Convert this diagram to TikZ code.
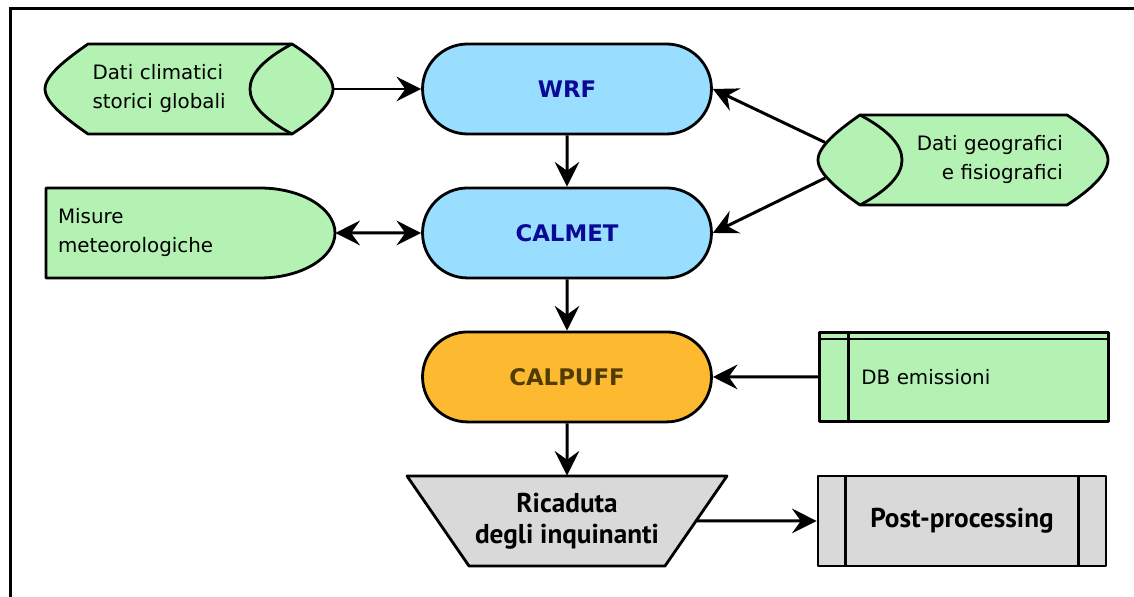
\documentclass[tikz,border=0pt]{standalone}
\usepackage{fontspec}
\setmainfont{DejaVu Sans}
\newfontfamily\ptsans{PT Sans}
\usepackage{xcolor}
\usepackage{tikz}
\usetikzlibrary{arrows.meta, positioning, shapes.misc, backgrounds}

\definecolor{datagreen}{RGB}{179,242,179}
\definecolor{modelblue}{RGB}{153,221,255}
\definecolor{puffgold}{RGB}{253,186,49}
\definecolor{outgray}{RGB}{217,217,217}
\definecolor{navytext}{RGB}{10,10,150}
\definecolor{browntext}{RGB}{80,60,0}

\begin{document}
\begin{tikzpicture}[
x=0.02cm, y=-0.02cm,
node distance=2.88cm,
every node/.style={font=\fontsize{11.3}{16.5}\selectfont, inner sep=0pt},
model/.style={draw, rounded rectangle, line width=1.6pt, fill=modelblue, text=navytext, minimum width=5.78cm, minimum height=1.8cm, font=\fontsize{13}{15}\selectfont\bfseries},
data/.style={minimum height=1.8cm},
datashape/.style={draw, fill=datagreen, line width=1.6pt, line join=round},
output/.style={align=center, font=\ptsans\fontsize{15.5}{17.5}\selectfont\bfseries},
outshape/.style={draw, fill=outgray, line width=1.6pt, line join=round},
arrow/.style={-{Stealth[length=14pt, width=14pt, inset=5pt]}, line width=1.7pt},
dblarrow/.style={{Stealth[length=14pt, width=14pt, inset=5pt]}-{Stealth[length=14pt, width=14pt, inset=5pt]}, line width=1.7pt}
]
\useasboundingbox (0,0) rectangle (1134,597);

\node (wrf) [model] at (567,89) {WRF};
\node (calmet) [model, below of=wrf] {CALMET};
\node (calpuff) [model, fill=puffgold, text=browntext, below of=calmet] {CALPUFF};
\node (ricaduta) [output, minimum width=5.16cm, minimum height=1.8cm, below of=calpuff] {Ricaduta\\degli inquinanti};
\node (post) [output, outshape, minimum width=5.76cm, minimum height=1.8cm] at (962,521) {Post-processing};
\node (db) [datashape, minimum height=1.78cm, inner xsep=0.84cm, text width=4.1cm, align=left, right=2.1cm of calpuff] {\raisebox{-0.08cm}{DB emissioni}};

\node (clim) [data, minimum width=5.76cm, inner xsep=0.94cm, text width=3.86cm, align=left] at (189,89) {Dati climatici\\storici globali};
\node (meteo) [data, minimum width=5.78cm, inner xsep=0.24cm, text width=5.3cm, align=left] at (190.5,233) {Misure\\meteorologiche};
\node (geo) [data, minimum width=5.8cm, inner xsep=0.9cm, text width=4cm, align=right] at (963,160) {Dati geografici\\e fisiografici};
\coordinate (geolens) at (862,160);

\begin{scope}[on background layer]
\fill[white] (0,0) rectangle (1134,597);
\draw[datashape] (88,44) -- (292,44) .. controls (314,58) and (333,75) .. (333,89) .. controls (333,103) and (314,120) .. (292,134) -- (88,134) .. controls (68,120) and (45,103) .. (45,89) .. controls (45,75) and (68,58) .. (88,44) -- cycle;
\draw[datashape, fill=none] (292,44) .. controls (262,60) and (250,75) .. (250,89) .. controls (250,103) and (262,118) .. (292,134);
\draw[datashape] (860,115) -- (1067,115) .. controls (1089,129) and (1108,146) .. (1108,160) .. controls (1108,174) and (1089,191) .. (1067,205) -- (860,205) .. controls (840,191) and (818,174) .. (818,160) .. controls (818,146) and (840,129) .. (860,115) -- cycle;
\draw[datashape, fill=none] (860,115) .. controls (890,131) and (902,146) .. (902,160) .. controls (902,174) and (890,189) .. (860,205);
\draw[datashape] (46,188) -- (260,188) .. controls (301,188) and (335,208) .. (335,233) .. controls (335,258) and (301,278) .. (260,278) -- (46,278) -- cycle;
\draw[outshape] (407,476) -- (727,476) -- (665,566) -- (469,566) -- cycle;
\end{scope}

\draw[line width=1.6pt] ([yshift=-0.16cm]db.north west) -- ([yshift=-0.16cm]db.north east);
\draw[line width=1.6pt] ([xshift=0.62cm]db.north west) -- ([xshift=0.62cm]db.south west);
\draw[line width=1.6pt] ([xshift=0.58cm]post.north west) -- ([xshift=0.58cm]post.south west);
\draw[line width=1.6pt] ([xshift=-0.58cm]post.north east) -- ([xshift=-0.58cm]post.south east);

\draw[line width=1.9pt] (10.7,597) -- (10.7,8.5) -- (1134,8.5);

\draw[arrow] (clim) -- (wrf);
\draw[arrow] (wrf) -- (calmet);
\draw[arrow] (calmet) -- (calpuff);
\draw[arrow] (calpuff) -- (ricaduta);
\draw[arrow] (ricaduta) -- (post);
\draw[arrow] (db) -- (calpuff);
\draw[arrow, shorten <=0.82cm] (geolens) -- (wrf.east);
\draw[arrow, shorten <=0.82cm] (geolens) -- (calmet.east);
\draw[dblarrow] (meteo) -- (calmet);

\end{tikzpicture}
\end{document}
